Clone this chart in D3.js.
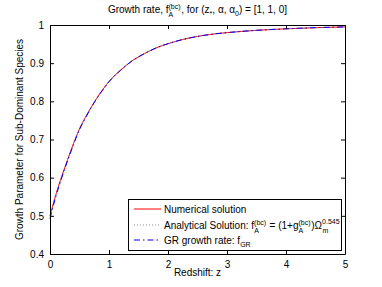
<!DOCTYPE html>
<html>
<head>
<meta charset="utf-8">
<script src="https://cdn.jsdelivr.net/npm/d3@7"></script>
<style>
body { margin: 0; background: #fff; }
text { font-family: "Liberation Sans", Arial, Helvetica, sans-serif; fill: #000; }
</style>
</head>
<body>
<div id="chart"></div>
<script>
"use strict";
// values
const redshift = [0, 0.1, 0.2, 0.3, 0.4, 0.5, 0.6, 0.7, 0.8, 0.9, 1.0, 1.2, 1.4, 1.6, 1.8, 2.0, 2.25, 2.5, 2.75, 3.0, 3.5, 4.0, 4.5, 5.0];
const numerical = [0.500, 0.556, 0.604, 0.648, 0.690, 0.728, 0.758, 0.785, 0.810, 0.832, 0.852, 0.882, 0.907, 0.925, 0.940, 0.951, 0.962, 0.970, 0.976, 0.980, 0.986, 0.990, 0.993, 0.995];
const analytical = [0.499, 0.555, 0.603, 0.647, 0.689, 0.727, 0.757, 0.785, 0.810, 0.832, 0.852, 0.882, 0.907, 0.925, 0.940, 0.951, 0.962, 0.970, 0.976, 0.980, 0.986, 0.990, 0.993, 0.995];
const grRate = [0.493, 0.551, 0.600, 0.645, 0.687, 0.726, 0.756, 0.784, 0.809, 0.831, 0.851, 0.882, 0.907, 0.925, 0.940, 0.951, 0.962, 0.970, 0.976, 0.980, 0.986, 0.990, 0.993, 0.995];
const xTicks = [0, 1, 2, 3, 4, 5];
const yTicks = [0.4, 0.5, 0.6, 0.7, 0.8, 0.9, 1];

const width = 382, height = 287;
const margin = {top: 25, right: 37, bottom: 33, left: 50};

const svg = d3.select("#chart").append("svg")
    .attr("width", width).attr("height", height);

const x = d3.scaleLinear().domain([0, 5]).range([margin.left, width - margin.right]);
const y = d3.scaleLinear().domain([0.4, 1]).range([height - margin.bottom, margin.top]);

const series = [
    {name: "num", values: numerical, color: "#ff0000", dash: null},
    {name: "ana", values: analytical, color: "#8c8c8c", dash: "1,2"},
    {name: "gr", values: grRate, color: "#0000ff", dash: "6,3,1.5,3"}
];

const line = d3.line().curve(d3.curveMonotoneX);

series.forEach(s => {
    svg.append("path")
        .attr("fill", "none")
        .attr("stroke", s.color)
        .attr("stroke-width", 1)
        .attr("stroke-dasharray", s.dash)
        .attr("d", line(redshift.map((z, i) => [x(z), y(s.values[i])])));
});

// axes with ticks inside, MATLAB style
const gx = svg.append("g").attr("transform", `translate(0,${y(0.4)})`)
    .call(d3.axisBottom(x).tickValues(xTicks).tickSizeInner(-4).tickSizeOuter(0).tickPadding(7).tickFormat(d3.format("d")));
const gxTop = svg.append("g").attr("transform", `translate(0,${y(1)})`)
    .call(d3.axisTop(x).tickValues(xTicks).tickSizeInner(-4).tickSizeOuter(0).tickFormat(""));
const gy = svg.append("g").attr("transform", `translate(${x(0)},0)`)
    .call(d3.axisLeft(y).tickValues(yTicks).tickSizeInner(-4).tickSizeOuter(0).tickPadding(6).tickFormat(d => d === 1 ? "1" : d3.format(".1f")(d)));
const gyRight = svg.append("g").attr("transform", `translate(${x(5)},0)`)
    .call(d3.axisRight(y).tickValues(yTicks).tickSizeInner(-4).tickSizeOuter(0).tickFormat(""));

[gx, gxTop, gy, gyRight].forEach(g => {
    g.select(".domain").attr("stroke", "#000");
    g.selectAll(".tick line").attr("stroke", "#000");
    g.selectAll("text").style("font-size", "10px").style("font-family", "Liberation Sans, Arial, sans-serif");
});

// legend
const lg = svg.append("g");
lg.append("rect")
    .attr("x", 128.5).attr("y", 199.5).attr("width", 213).attr("height", 51)
    .attr("fill", "#fff").attr("stroke", "#000").attr("stroke-width", 1);

const rowsY = [209, 225, 240];
series.forEach((s, i) => {
    lg.append("line")
        .attr("x1", 134).attr("x2", 161)
        .attr("y1", rowsY[i]).attr("y2", rowsY[i])
        .attr("stroke", s.color).attr("stroke-width", 1)
        .attr("stroke-dasharray", s.dash);
});

function supsub(t, sup, sub) {
    t.append("tspan").attr("font-size", "7px").attr("dy", -4).text(sup);
    t.append("tspan").attr("font-size", "7px").attr("dx", -(sup.length * 3.6)).attr("dy", 8).text(sub);
    t.append("tspan").attr("dy", -4).text("");
}

let t1 = lg.append("text").attr("x", 164).attr("y", rowsY[0] + 3.5).style("font-size", "10px")
    .text("Numerical solution");

let t2 = lg.append("text").attr("x", 164).attr("y", rowsY[1] + 3.5).style("font-size", "10px");
t2.append("tspan").text("Analytical Solution: f");
t2.append("tspan").attr("font-size", "7px").attr("dy", -4).text("(bc)");
t2.append("tspan").attr("font-size", "7px").attr("dx", -12).attr("dy", 8).text("A");
t2.append("tspan").attr("dx", 8).attr("dy", -4).text(" = (1+g");
t2.append("tspan").attr("font-size", "7px").attr("dy", -4).text("(bc)");
t2.append("tspan").attr("font-size", "7px").attr("dx", -12).attr("dy", 8).text("A");
t2.append("tspan").attr("dx", 8).attr("dy", -4).text(")Ω");
t2.append("tspan").attr("font-size", "7px").attr("dy", -5).text("0.545");
t2.append("tspan").attr("font-size", "7px").attr("dx", -17).attr("dy", 9).text("m");

let t3 = lg.append("text").attr("x", 164).attr("y", rowsY[2] + 3.5).style("font-size", "10px");
t3.append("tspan").text("GR growth rate: f");
t3.append("tspan").attr("font-size", "7px").attr("dy", 3).text("GR");

// title
let title = svg.append("text").attr("x", (x(0) + x(5)) / 2).attr("y", 13)
    .attr("text-anchor", "middle").style("font-size", "10px");
title.append("tspan").text("Growth rate, f");
title.append("tspan").attr("font-size", "7px").attr("dy", -4).text("(bc)");
title.append("tspan").attr("font-size", "7px").attr("dx", -12).attr("dy", 8).text("A");
title.append("tspan").attr("dx", 8).attr("dy", -4).text(", for (z");
title.append("tspan").attr("font-size", "7px").attr("dy", 3).text("*");
title.append("tspan").attr("dy", -3).text(", α, α");
title.append("tspan").attr("font-size", "7px").attr("dy", 3).text("0");
title.append("tspan").attr("dy", -3).text(") = [1, 1, 0]");

// axis labels
svg.append("text").attr("x", (x(0) + x(5)) / 2).attr("y", 276)
    .attr("text-anchor", "middle").style("font-size", "10px").text("Redshift: z");
svg.append("text")
    .attr("transform", `translate(23,${(y(0.4) + y(1)) / 2}) rotate(-90)`)
    .attr("text-anchor", "middle").style("font-size", "10px")
    .text("Growth Parameter for Sub-Dominant Species");
</script>
</body>
</html>
